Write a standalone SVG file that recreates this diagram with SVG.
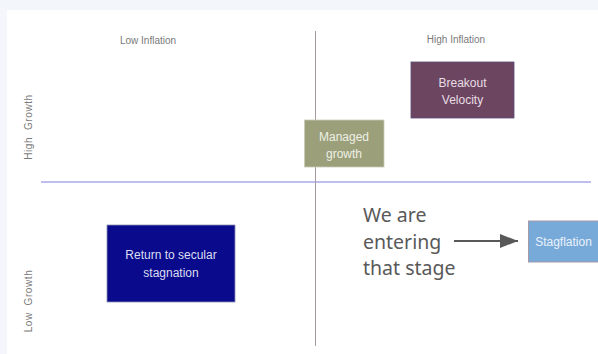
<svg xmlns="http://www.w3.org/2000/svg" width="598" height="354" viewBox="0 0 598 354">
<style>
.axis{font-family:"Liberation Sans",Arial,sans-serif;font-size:10px;fill:#7a7a7a}
.vaxis{letter-spacing:0.6px}
.lbl{font-family:"Liberation Sans",Arial,sans-serif;font-size:12px;text-anchor:middle}
.note{font-family:"Noto Sans","Open Sans",sans-serif;font-size:19.5px;fill:#595959}
</style>
<defs>
<marker id="ah" markerWidth="18" markerHeight="14" refX="18" refY="7" orient="auto" markerUnits="userSpaceOnUse">
<path d="M0,0 L18,7 L0,14 Z" fill="#595959"/>
</marker>
</defs>
<rect x="0" y="0" width="598" height="354" fill="#f3f6fa"/>
<rect x="7" y="10" width="591" height="344" fill="#ffffff"/>
<g id="connectors">
<line x1="41" y1="182" x2="591" y2="182" stroke="#7b80d8" stroke-width="1"/>
<line x1="315.5" y1="31" x2="315.5" y2="346" stroke="#a8989f" stroke-width="1"/>
<line x1="454" y1="241" x2="518" y2="241" stroke="#595959" stroke-width="2.2" marker-end="url(#ah)"/>
</g>
<g id="axes">
<text class="axis" x="148" y="44" text-anchor="middle">Low Inflation</text>
<text class="axis" x="456" y="43" text-anchor="middle">High Inflation</text>
<text class="axis vaxis" transform="translate(32,127) rotate(-90)" text-anchor="middle" xml:space="preserve">High  Growth</text>
<text class="axis vaxis" transform="translate(32,301) rotate(-90)" text-anchor="middle" xml:space="preserve">Low  Growth</text>
</g>
<g id="breakout">
<rect x="411" y="62" width="103" height="56" fill="#6c4660" stroke="#5a4a7a" stroke-width="0.8"/>
<text class="lbl" fill="#e8dde5"><tspan x="462.5" y="87">Breakout</tspan><tspan x="462.5" y="104">Velocity</tspan></text>
</g>
<g id="managed">
<rect x="304.5" y="120" width="79.5" height="47" fill="#9b9f7a" stroke="#c9cbb7" stroke-width="0.8"/>
<text class="lbl" fill="#eef0e6"><tspan x="344" y="141">Managed</tspan><tspan x="344" y="158">growth</tspan></text>
</g>
<g id="stagnation">
<rect x="107" y="225" width="128" height="77" fill="#0a0a8c" stroke="#8a8fb0" stroke-width="0.8"/>
<text class="lbl" fill="#dcdff2"><tspan x="171" y="259">Return to secular</tspan><tspan x="171" y="277">stagnation</tspan></text>
</g>
<g id="stagflation">
<rect x="528.5" y="221" width="72" height="41" fill="#77a9d9" stroke="#a79aa6" stroke-width="1"/>
<text class="lbl" x="563.5" y="246" fill="#eaf2fb">Stagflation</text>
</g>
<g id="note">
<text class="note"><tspan x="363" y="222">We are</tspan><tspan x="363" y="248.5">entering</tspan><tspan x="363" y="275">that stage</tspan></text>
</g>
</svg>
